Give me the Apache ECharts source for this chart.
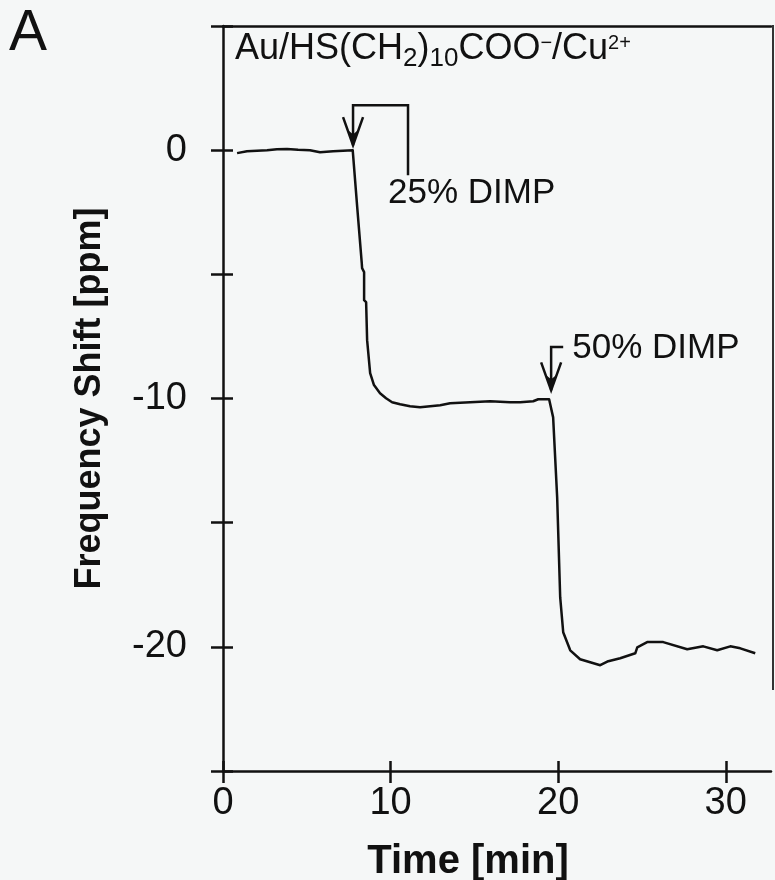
<!DOCTYPE html>
<html>
<head>
<meta charset="utf-8">
<title>Frequency Shift vs Time</title>
<script src="https://cdn.jsdelivr.net/npm/echarts@6/dist/echarts.min.js"></script>
<style>
  html, body { margin: 0; padding: 0; background: #f5f7f7; }
  #chart { width: 775px; height: 880px; }
</style>
</head>
<body>
<div id="chart"></div>
<script>
// Time axis (minutes) and frequency shift (ppm) of the sensor trace
const timeMin = [
  0.84, 1.43, 2.03, 2.63, 3.22, 3.82, 4.48, 5.19, 5.79, 6.57, 7.16, 7.74,
  8.00, 8.28, 8.30, 8.42, 8.42, 8.54, 8.60, 8.78, 9.01, 9.37, 9.73, 10.09,
  10.57, 11.16, 11.76, 12.36, 12.96, 13.55, 14.75, 15.94, 17.13, 17.73, 18.51, 18.81,
  19.46, 19.70, 19.94, 20.12, 20.30, 20.72, 21.31, 21.91, 22.51, 22.99, 23.70, 24.60,
  24.72, 25.31, 26.27, 27.70, 28.66, 29.49, 30.27, 30.87, 31.76
];
const shiftPpm = [
  -0.12, -0.04, -0.02, 0.00, 0.04, 0.05, 0.02, 0.00, -0.08, -0.04, -0.02, 0.00,
  -2.22, -4.55, -4.75, -4.91, -6.04, -6.12, -7.65, -8.98, -9.46, -9.79, -9.99, -10.15,
  -10.23, -10.31, -10.35, -10.31, -10.27, -10.19, -10.15, -10.11, -10.15, -10.15, -10.11, -10.03,
  -10.03, -10.76, -13.98, -18.00, -19.41, -20.14, -20.50, -20.62, -20.74, -20.58, -20.46, -20.26,
  -20.02, -19.81, -19.81, -20.10, -19.98, -20.14, -19.98, -20.06, -20.26
];

// Tick values and labels
const xTickValues = [0, 10, 20, 30];
const yTickValues = [-25, -20, -15, -10, -5, 0, 5];
const yLabelValues = [0, -10, -20];

// Injection markers: bracket path (time, ppm) ending at the arrow tip, and label anchor
const injectionLabels = ['25% DIMP', '50% DIMP'];
const injectionPaths = [
  [[11.04, -1.01], [11.04, 1.81], [7.76, 1.81], [7.76, 0.2]],
  [[20.30, -7.93], [19.58, -7.93], [19.58, -9.67]]
];
const injectionLabelAt = [[9.85, -1.73], [20.84, -7.97]];

const FONT = '"Liberation Sans", Arial, Helvetica, sans-serif';
const INK = '#111';

const chart = echarts.init(document.getElementById('chart'), null, { renderer: 'canvas' });

const axisBase = {
  type: 'value',
  splitLine: { show: false }
};

const option = {
  backgroundColor: '#f5f7f7',
  animation: false,
  grid: { left: 223, right: 4, top: 26, bottom: 109, containLabel: false, outerBoundsMode: 'none' },
  xAxis: [
    Object.assign({}, axisBase, {
      min: 0, max: 32.7, interval: 10, position: 'bottom',
      axisLine: { show: true, onZero: false, lineStyle: { color: INK, width: 2.5 } },
      axisTick: { show: true, inside: false, length: 12, customValues: xTickValues,
        lineStyle: { color: INK, width: 2.5 } },
      axisLabel: { show: true, customValues: xTickValues, margin: 14,
        color: INK, fontFamily: FONT, fontSize: 38 },
      name: 'Time [min]', nameLocation: 'middle', nameGap: 71,
      nameTextStyle: { color: INK, fontFamily: FONT, fontSize: 40, fontWeight: 'bold',
        padding: [0, 58, 0, 0] }
    }),
    Object.assign({}, axisBase, {
      min: 0, max: 32.7, interval: 10, position: 'bottom',
      axisLine: { show: false, onZero: false },
      axisTick: { show: true, inside: true, length: 10, customValues: xTickValues,
        lineStyle: { color: INK, width: 2.5 } },
      axisLabel: { show: false }
    }),
    Object.assign({}, axisBase, {
      min: 0, max: 32.7, position: 'top',
      axisLine: { show: true, onZero: false, lineStyle: { color: INK, width: 2.5 } },
      axisTick: { show: false },
      axisLabel: { show: false }
    })
  ],
  yAxis: [
    Object.assign({}, axisBase, {
      min: -25, max: 5, interval: 5, position: 'left',
      axisLine: { show: true, onZero: false, lineStyle: { color: INK, width: 2.5 } },
      axisTick: { show: true, inside: false, length: 12, customValues: yTickValues,
        lineStyle: { color: INK, width: 2.5 } },
      axisLabel: { show: true, customValues: yLabelValues, margin: 36,
        color: INK, fontFamily: FONT, fontSize: 38 },
      name: 'Frequency Shift [ppm]', nameLocation: 'middle', nameGap: 115,
      nameTextStyle: { color: INK, fontFamily: FONT, fontSize: 36, fontWeight: 'bold' }
    }),
    Object.assign({}, axisBase, {
      min: -25, max: 5, interval: 5, position: 'left',
      axisLine: { show: false, onZero: false },
      axisTick: { show: true, inside: true, length: 10, customValues: yTickValues,
        lineStyle: { color: INK, width: 2.5 } },
      axisLabel: { show: false }
    })
  ],
  graphic: [
    {
      type: 'text', left: 9, top: 6,
      style: { text: 'A', font: '57px ' + FONT, fill: INK }
    },
    {
      type: 'text', left: 235, top: 31,
      style: {
        text: '{m|Au/HS(CH}{sub|2}{m|)}{sub|10}{m|COO}{sup|−}{m|/Cu}{sup|2+}',
        fill: INK,
        rich: {
          m: { fontFamily: FONT, fontSize: 36, lineHeight: 46, verticalAlign: 'middle', fill: INK },
          sub: { fontFamily: FONT, fontSize: 26, lineHeight: 22, verticalAlign: 'bottom', fill: INK },
          sup: { fontFamily: FONT, fontSize: 20, lineHeight: 20, verticalAlign: 'middle',
            padding: [0, 0, 12, 0], fill: INK }
        }
      }
    },
    {
      type: 'line', z: 5,
      shape: { x1: 773, y1: 25, x2: 773, y2: 690 },
      style: { stroke: '#333', lineWidth: 2 }
    }
  ],
  series: [
    {
      type: 'line',
      xAxisIndex: 0, yAxisIndex: 0,
      data: timeMin.map((t, i) => [t, shiftPpm[i]]),
      showSymbol: false,
      lineStyle: { color: INK, width: 2.5, join: 'round' },
      itemStyle: { color: INK },
      clip: false
    },
    {
      type: 'custom',
      xAxisIndex: 0, yAxisIndex: 0,
      data: injectionLabels.map((_, i) => [i]),
      clip: false,
      renderItem: function (params, api) {
        const i = params.dataIndex;
        const pts = injectionPaths[i].map(p => api.coord(p));
        const tip = pts[pts.length - 1];
        const lab = api.coord(injectionLabelAt[i]);
        return {
          type: 'group',
          children: [
            { type: 'polyline', shape: { points: pts },
              style: { stroke: INK, lineWidth: 2.5, fill: null } },
            { type: 'polyline',
              shape: { points: [[tip[0] - 10, tip[1] - 28], [tip[0], tip[1]], [tip[0] + 10, tip[1] - 28]] },
              style: { stroke: INK, lineWidth: 2.5, fill: null } },
            { type: 'polygon',
              shape: { points: [[tip[0], tip[1]], [tip[0] - 5, tip[1] - 15], [tip[0], tip[1] - 11], [tip[0] + 5, tip[1] - 15]] },
              style: { fill: INK } },
            { type: 'text',
              style: { text: injectionLabels[i], x: lab[0], y: lab[1],
                font: '35px ' + FONT, fill: INK, textAlign: 'left', textVerticalAlign: 'middle' } }
          ]
        };
      }
    }
  ]
};

chart.setOption(option);
</script>
</body>
</html>
